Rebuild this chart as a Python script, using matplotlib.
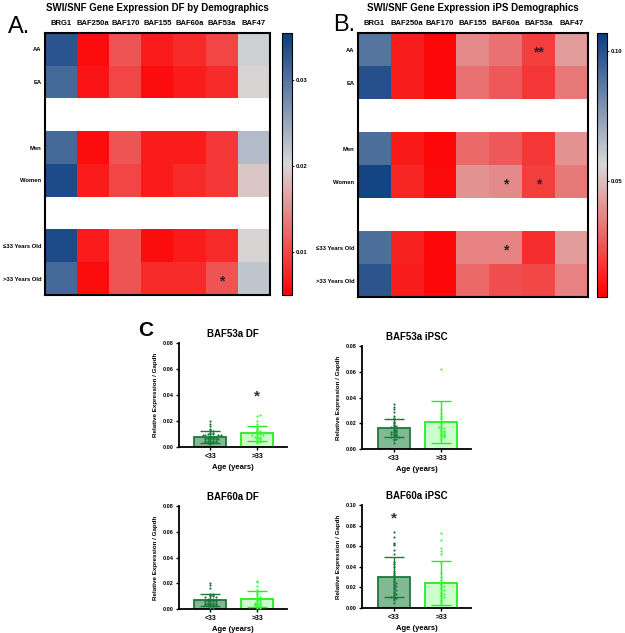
import numpy as np
import matplotlib
matplotlib.use("Agg")
import matplotlib.pyplot as plt
from matplotlib.colors import LinearSegmentedColormap

plt.rcParams['font.family'] = ['Liberation Sans', 'DejaVu Sans']
plt.rcParams['font.weight'] = 'bold'

# ---- heatmap data ----
genes = ["BRG1", "BAF250a", "BAF170", "BAF155", "BAF60a", "BAF53a", "BAF47"]
rows = ["AA", "EA", "", "Men", "Women", "", "\u226433 Years Old", ">33 Years Old"]

df_AA = [0.033, 0.006, 0.011, 0.007, 0.008, 0.010, 0.021]
df_EA = [0.031, 0.0065, 0.010, 0.006, 0.007, 0.008, 0.020]
df_men = [0.031, 0.006, 0.011, 0.007, 0.007, 0.009, 0.023]
df_women = [0.034, 0.007, 0.010, 0.007, 0.008, 0.009, 0.019]
df_young = [0.034, 0.007, 0.011, 0.006, 0.007, 0.008, 0.020]
df_old = [0.031, 0.006, 0.011, 0.008, 0.008, 0.011, 0.022]

ips_AA = [0.088, 0.012, 0.007, 0.038, 0.032, 0.020, 0.042]
ips_EA = [0.100, 0.012, 0.007, 0.032, 0.026, 0.018, 0.034]
ips_men = [0.090, 0.011, 0.007, 0.030, 0.026, 0.018, 0.040]
ips_women = [0.104, 0.014, 0.008, 0.040, 0.038, 0.020, 0.034]
ips_young = [0.090, 0.013, 0.007, 0.036, 0.036, 0.016, 0.042]
ips_old = [0.098, 0.012, 0.007, 0.030, 0.024, 0.022, 0.036]

# (row, col, mark)
df_stars = [(7, 5, "*")]
ips_stars = [(0, 5, "**"), (4, 4, "*"), (4, 5, "*"), (6, 4, "*")]

# ---- bar chart data ----
groups = ["<33", ">33"]
baf53_df_mean = [0.0078, 0.0105]
baf53_df_sd = [0.0045, 0.0058]
baf53_ips_mean = [0.0163, 0.0212]
baf53_ips_sd = [0.0072, 0.0163]
baf60_df_mean = [0.0070, 0.0075]
baf60_df_sd = [0.0046, 0.0063]
baf60_ips_mean = [0.0300, 0.0245]
baf60_ips_sd = [0.0198, 0.0215]

baf53_df_young = [0.020, 0.018, 0.016, 0.014, 0.013, 0.012, 0.012, 0.011, 0.011, 0.010,
                  0.010, 0.010, 0.009, 0.009, 0.009, 0.008, 0.008, 0.008, 0.008, 0.007,
                  0.007, 0.007, 0.007, 0.006, 0.006, 0.006, 0.006, 0.006, 0.005, 0.005,
                  0.005, 0.005, 0.004, 0.004, 0.004, 0.004, 0.003, 0.003, 0.003, 0.002,
                  0.006, 0.007, 0.005, 0.009, 0.004]
baf53_df_old = [0.025, 0.024, 0.020, 0.018, 0.016, 0.015, 0.014, 0.013, 0.012, 0.012,
                0.011, 0.011, 0.010, 0.010, 0.009, 0.009, 0.008, 0.008, 0.008, 0.007,
                0.007, 0.006, 0.006, 0.005, 0.005, 0.004, 0.004, 0.003]
baf53_ips_young = [0.035, 0.033, 0.031, 0.029, 0.026, 0.024, 0.023, 0.021, 0.020, 0.019,
                   0.018, 0.018, 0.017, 0.016, 0.016, 0.015, 0.015, 0.014, 0.014, 0.013,
                   0.013, 0.013, 0.012, 0.012, 0.012, 0.011, 0.011, 0.010, 0.010, 0.009,
                   0.009, 0.008, 0.008, 0.007, 0.005]
baf53_ips_old = [0.062, 0.031, 0.028, 0.026, 0.024, 0.022, 0.020, 0.018, 0.017, 0.016,
                 0.016, 0.015, 0.014, 0.014, 0.013, 0.013, 0.012, 0.012, 0.011, 0.011,
                 0.010, 0.010, 0.009, 0.008]
baf60_df_young = [0.020, 0.019, 0.016, 0.012, 0.012, 0.011, 0.011, 0.010, 0.010, 0.009,
                  0.009, 0.008, 0.008, 0.008, 0.007, 0.007, 0.007, 0.006, 0.006, 0.006,
                  0.006, 0.005, 0.005, 0.005, 0.005, 0.004, 0.004, 0.004, 0.004, 0.003,
                  0.003, 0.003, 0.003, 0.002, 0.002, 0.002, 0.001, 0.001, 0.005, 0.006,
                  0.004, 0.003, 0.002, 0.007]
baf60_df_old = [0.022, 0.021, 0.018, 0.015, 0.014, 0.013, 0.012, 0.010, 0.009, 0.008,
                0.007, 0.007, 0.006, 0.006, 0.005, 0.005, 0.005, 0.004, 0.004, 0.004,
                0.003, 0.003, 0.003, 0.002, 0.002, 0.002, 0.001, 0.001]
baf60_ips_young = [0.074, 0.069, 0.063, 0.062, 0.061, 0.056, 0.052, 0.045, 0.043, 0.040,
                   0.036, 0.034, 0.032, 0.030, 0.028, 0.026, 0.025, 0.024, 0.023, 0.022,
                   0.021, 0.020, 0.019, 0.018, 0.017, 0.016, 0.015, 0.014, 0.013, 0.012,
                   0.011, 0.010, 0.010, 0.009, 0.008, 0.005]
baf60_ips_old = [0.073, 0.066, 0.058, 0.055, 0.052, 0.044, 0.034, 0.030, 0.027, 0.025,
                 0.023, 0.022, 0.021, 0.020, 0.019, 0.018, 0.017, 0.016, 0.015, 0.014,
                 0.013, 0.012, 0.011, 0.010, 0.008, 0.006, 0.004]

W, H = 625, 633
fig = plt.figure(figsize=(W / 100, H / 100), dpi=100)


def rect(l, t, r, b):
    return [l / W, 1 - b / H, (r - l) / W, (b - t) / H]


cmap = LinearSegmentedColormap.from_list("rwb", ["#ff0000", "#d8d8d8", "#0a3c80"])


def heatmap(box, cbox, data, vmin, vmax, cticks, clabels, stars, title, letter, lx, ly):
    ax = fig.add_axes(rect(*box))
    arr = np.full((len(rows), len(genes)), np.nan)
    for i, r in enumerate(data):
        if r is not None:
            arr[i] = r
    m = np.ma.masked_invalid(arr)
    im = ax.imshow(m, cmap=cmap, vmin=vmin, vmax=vmax, aspect="auto",
                   interpolation="nearest")
    ax.set_xticks(range(len(genes)))
    ax.set_xticklabels(genes, fontsize=5.5, fontweight="bold")
    ax.xaxis.tick_top()
    ax.set_yticks([i for i, r in enumerate(rows) if r])
    ax.set_yticklabels([r for r in rows if r], fontsize=4.2, fontweight="bold")
    ax.tick_params(axis="y", length=0, pad=2.5)
    ax.tick_params(axis="x", length=0, pad=4)
    for s in ax.spines.values():
        s.set_linewidth(1.5)
    for (r, c, t) in stars:
        ax.text(c, r + 0.1, t, ha="center", va="center", fontsize=10, color="#222222")
    ax.set_title(title, fontsize=7, fontweight="bold", pad=16)
    fig.text(lx / W, 1 - ly / H, letter, fontsize=17, fontweight="normal",
             ha="left", va="center")
    cax = fig.add_axes(rect(*cbox))
    cb = fig.colorbar(im, cax=cax, ticks=cticks)
    cb.ax.set_yticklabels(clabels, fontsize=4.2, fontweight="bold")
    cb.ax.tick_params(length=1.5, width=0.6, pad=1.5)
    cb.outline.set_linewidth(0.8)


heatmap((45, 33, 270, 295), (282, 33, 292, 295),
        [df_AA, df_EA, None, df_men, df_women, None, df_young, df_old],
        0.005, 0.0355, [0.01, 0.02, 0.03], ["0.01", "0.02", "0.03"], df_stars,
        "SWI/SNF Gene Expression DF by Demographics", "A.", 8, 27)
heatmap((358, 33, 588, 297), (597, 33, 607, 297),
        [ips_AA, ips_EA, None, ips_men, ips_women, None, ips_young, ips_old],
        0.005, 0.107, [0.05, 0.10], ["0.05", "0.10"], ips_stars,
        "SWI/SNF Gene Expression iPS Demographics", "B.", 333, 25)

fig.text(138 / W, 1 - 330 / H, "C", fontsize=15, ha="left", va="center")

face = ["#82b995", "#ccffcc"]
edge = ["#1a7a3a", "#22ee22"]
pt = ["#1a7a3a", "#33ff33"]


def swarm(vals, ymax):
    # simple beeswarm layout: spread points sharing a y-bin sideways
    vals = np.asarray(vals)
    order = np.argsort(vals)
    offs = np.zeros(len(vals))
    binw = ymax / 70
    bins = {}
    for idx in order:
        b = int(vals[idx] / binw)
        k = bins.get(b, 0)
        bins[b] = k + 1
        step = (k + 1) // 2 * (1 if k % 2 else -1)
        offs[idx] = step * 0.055
    return offs


def barplot(box, title, means, sds, pts, ymax, yticks, star=None):
    ax = fig.add_axes(rect(*box))
    x = np.arange(len(groups))
    for i in x:
        ax.bar(i, means[i], width=0.68, color=face[i], edgecolor=edge[i], linewidth=1.3,
               zorder=1)
        ax.errorbar(i, means[i], yerr=sds[i], color=edge[i], capsize=7, elinewidth=1,
                    capthick=1, zorder=3)
        ax.scatter(i + swarm(pts[i], ymax), pts[i], s=2.5, color=pt[i], zorder=4,
                   linewidths=0)
    if star is not None:
        ax.text(star[0], star[1], "*", ha="center", va="center", fontsize=11,
                color="#333333")
    ax.set_xlim(-0.67, 1.63)
    ax.set_ylim(0, ymax)
    ax.set_yticks(yticks)
    ax.set_yticklabels(["%.2f" % v for v in yticks], fontsize=4, fontweight="bold")
    ax.set_xticks(x)
    ax.set_xticklabels(groups, fontsize=5, fontweight="bold")
    ax.tick_params(length=2, width=1, pad=2)
    for s in ["top", "right"]:
        ax.spines[s].set_visible(False)
    for s in ["left", "bottom"]:
        ax.spines[s].set_linewidth(1.3)
    ax.set_title(title, fontsize=7, fontweight="bold", pad=4)
    ax.set_ylabel("Relative Expression / Gapdh", fontsize=4.5, fontweight="bold",
                  labelpad=3)
    ax.set_xlabel("Age (years)", fontsize=5.5, fontweight="bold", labelpad=3)


barplot((179, 343, 287, 447), "BAF53a DF", baf53_df_mean, baf53_df_sd,
        [baf53_df_young, baf53_df_old], 0.08, [0, 0.02, 0.04, 0.06, 0.08], star=(1, 0.039))
barplot((362, 346, 471, 449), "BAF53a iPSC", baf53_ips_mean, baf53_ips_sd,
        [baf53_ips_young, baf53_ips_old], 0.08, [0, 0.02, 0.04, 0.06, 0.08])
barplot((179, 506, 287, 609), "BAF60a DF", baf60_df_mean, baf60_df_sd,
        [baf60_df_young, baf60_df_old], 0.08, [0, 0.02, 0.04, 0.06, 0.08])
barplot((362, 505, 471, 608), "BAF60a iPSC", baf60_ips_mean, baf60_ips_sd,
        [baf60_ips_young, baf60_ips_old], 0.10, [0, 0.02, 0.04, 0.06, 0.08, 0.10],
        star=(0, 0.087))

fig.savefig("out.png", dpi=100)
